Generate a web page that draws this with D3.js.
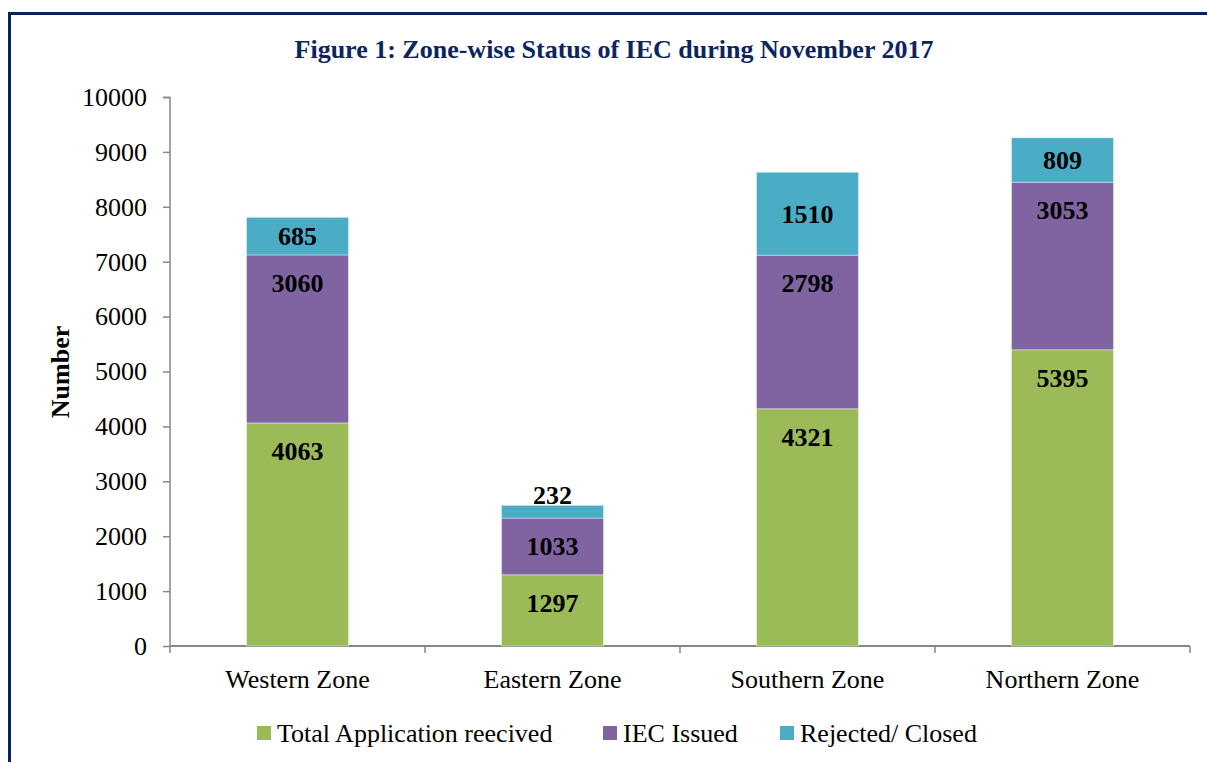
<!DOCTYPE html>
<html>
<head>
<meta charset="utf-8">
<script src="https://cdn.jsdelivr.net/npm/d3@7"></script>
<style>
    body { margin: 0; background: #fff; }
    svg { display: block; font-family: "Liberation Serif", "Times New Roman", serif; }
</style>
</head>
<body>
<svg id="chart"></svg>
<script>
var zones = ["Western Zone", "Eastern Zone", "Southern Zone", "Northern Zone"];
var seriesNames = ["Total Application reecived", "IEC Issued", "Rejected/ Closed"];
var totalReceived = [4063, 1297, 4321, 5395];
var iecIssued = [3060, 1033, 2798, 3053];
var rejectedClosed = [685, 232, 1510, 809];
var yTicks = [0, 1000, 2000, 3000, 4000, 5000, 6000, 7000, 8000, 9000, 10000];
var colors = ["#9BBB59", "#8064A2", "#4BACC6"];

var W = 1207, H = 762;
var svg = d3.select("#chart").attr("width", W).attr("height", H);

// frame
svg.append("rect")
    .attr("x", 9.5).attr("y", 13.5)
    .attr("width", 1300).attr("height", 900)
    .attr("fill", "none")
    .attr("stroke", "#0b2260")
    .attr("stroke-width", 3);

var rows = zones.map(function (z, i) {
    return { zone: z, s0: totalReceived[i], s1: iecIssued[i], s2: rejectedClosed[i] };
});
var stacked = d3.stack().keys(["s0", "s1", "s2"])(rows);

var x = d3.scaleBand().domain(zones).range([170, 1190])
    .paddingInner(0.6).paddingOuter(0.3);
var y = d3.scaleLinear().domain([0, 10000]).range([646, 97]);

// Title
svg.append("text")
    .attr("x", 614).attr("y", 58)
    .attr("text-anchor", "middle")
    .attr("font-size", 26).attr("font-weight", "bold")
    .attr("fill", "#0c2461")
    .text("Figure 1: Zone-wise Status of IEC during November 2017");

// Y axis
var yAxis = svg.append("g")
    .attr("transform", "translate(170,0)")
    .call(d3.axisLeft(y).tickValues(yTicks).tickSize(7).tickPadding(16).tickFormat(d3.format("d")));
yAxis.selectAll("path, line").attr("stroke", "#868686").attr("stroke-width", 1.5);
yAxis.select(".domain").attr("d", "M-7,97.5H0V646.5");
yAxis.selectAll("text").attr("font-size", 26).attr("font-family", "Liberation Serif").attr("fill", "#000");

// X axis
var step = x.step();
var bounds = zones.map(function (z) { return x(z) - step * 0.3; }).concat([1190]);
var xg = svg.append("g");
xg.append("line")
    .attr("x1", 170).attr("x2", 1190).attr("y1", 646).attr("y2", 646)
    .attr("stroke", "#868686").attr("stroke-width", 2);
xg.selectAll(".xt").data(bounds).enter().append("line")
    .attr("x1", function (d) { return d; }).attr("x2", function (d) { return d; })
    .attr("y1", 646).attr("y2", 653)
    .attr("stroke", "#868686").attr("stroke-width", 1.5);
xg.selectAll(".xl").data(zones).enter().append("text")
    .attr("x", function (d) { return x(d) + x.bandwidth() / 2; })
    .attr("y", 688)
    .attr("text-anchor", "middle")
    .attr("font-size", 26)
    .text(function (d) { return d; });

// Y title
svg.append("text")
    .attr("transform", "translate(69,372) rotate(-90)")
    .attr("text-anchor", "middle")
    .attr("font-size", 26).attr("font-weight", "bold")
    .text("Number");

// Bars
var layers = svg.selectAll(".layer").data(stacked).enter().append("g")
    .attr("fill", function (d, i) { return colors[i]; });
layers.selectAll("rect").data(function (d) { return d; }).enter().append("rect")
    .attr("x", function (d) { return x(d.data.zone); })
    .attr("y", function (d) { return y(d[1]); })
    .attr("width", x.bandwidth())
    .attr("height", function (d) { return y(d[0]) - y(d[1]); })
    .attr("stroke", "rgba(255,255,255,0.5)")
    .attr("stroke-width", 0.8);

// Values: lower series near segment top, top series centred, above bar if too thin
layers.each(function (layer, li) {
    d3.select(this).selectAll("text").data(layer).enter().append("text")
        .attr("x", function (d) { return x(d.data.zone) + x.bandwidth() / 2; })
        .attr("y", function (d) {
            var top = y(d[1]), bottom = y(d[0]);
            if (bottom - top < 24) return top - 10;
            if (li < 2) return Math.min((top + bottom) / 2, top + 28);
            return (top + bottom) / 2;
        })
        .attr("dy", "0.35em")
        .attr("text-anchor", "middle")
        .attr("font-size", 26).attr("font-weight", "bold")
        .attr("fill", "#000")
        .text(function (d) { return d[1] - d[0]; });
});

// Legend
var legendX = [257, 603, 780];
var lg = svg.selectAll(".lg").data(seriesNames).enter().append("g")
    .attr("transform", function (d, i) { return "translate(" + legendX[i] + ",726)"; });
lg.append("rect").attr("width", 14).attr("height", 14)
    .attr("fill", function (d, i) { return colors[i]; });
lg.append("text").attr("x", 20).attr("y", 16)
    .attr("font-size", 26)
    .text(function (d) { return d; });
</script>
</body>
</html>
